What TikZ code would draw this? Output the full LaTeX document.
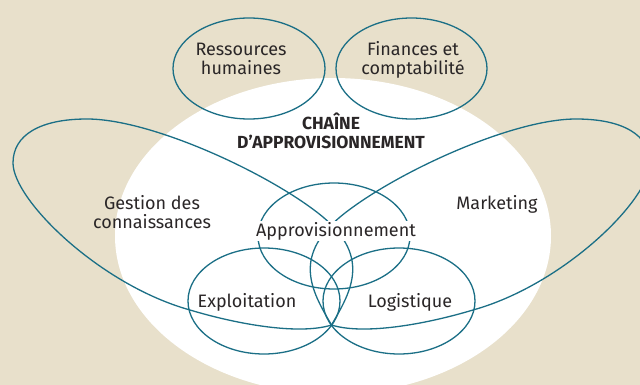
\documentclass[tikz,border=0pt]{standalone}
\usepackage{fontspec}
\setmainfont{Fira Sans}
\definecolor{sand}{HTML}{E8E0CB}
\definecolor{petrol}{HTML}{1B6F86}
\definecolor{ink}{HTML}{2A2627}

\begin{document}
\begin{tikzpicture}[x=1pt, y=-1pt,
    loopline/.style={petrol, line width=1.3pt},
    lbl/.style={text=ink, font=\fontsize{18}{19}\selectfont, align=center, anchor=base, inner sep=1pt}]
  \clip (0,0) rectangle (640,385);
  \fill[sand] (0,0) rectangle (640,385);
  \fill[white] (333,236) ellipse [x radius=218, y radius=158];

  \coordinate (hub) at (331.5,325);
  % big loops
  \draw[loopline] (hub) .. controls (352,290) and (372,255) .. (318,213)
    .. controls (264,171) and (150,119) .. (87,119)
    .. controls (40,119) and (13,135) .. (13,163)
    .. controls (13,200) and (100,285) .. (190,310)
    .. controls (240,325) and (300,335) .. (hub);
  \draw[loopline] (hub) .. controls (311,290) and (291,255) .. (345,213)
    .. controls (399,171) and (513,119) .. (576,119)
    .. controls (623,119) and (650,135) .. (650,163)
    .. controls (650,200) and (563,285) .. (473,310)
    .. controls (423,325) and (363,335) .. (hub);
  % small loops
  \draw[loopline] (249,68.5) ellipse [x radius=76, y radius=50.5];
  \draw[loopline] (411.5,68.5) ellipse [x radius=75.5, y radius=50.5];
  \draw[loopline] (334,236) ellipse [x radius=76, y radius=53];
  \draw[loopline] (264,301) ellipse [x radius=76, y radius=53];
  \draw[loopline] (399,301) ellipse [x radius=76, y radius=53];

  \node[lbl] (rh) at (241,75) {Ressources\\humaines};
  \node[lbl] (fc) at (413,75) {Finances et\\comptabilité};
  \node[lbl, font=\bfseries\fontsize{17.5}{19}\selectfont] (sc) at (331,149) {CHAÎNE\\D’APPROVISIONNEMENT};
  \node[lbl] (gc) at (152,228) {Gestion des\\connaissances};
  \node[lbl] (mk) at (497,209) {Marketing};
  \node[lbl, fill=white] (ap) at (336,236) {Approvisionnement};
  \node[lbl] (ex) at (247,307) {Exploitation};
  \node[lbl] (lg) at (410,307) {Logistique};
\end{tikzpicture}
\end{document}
